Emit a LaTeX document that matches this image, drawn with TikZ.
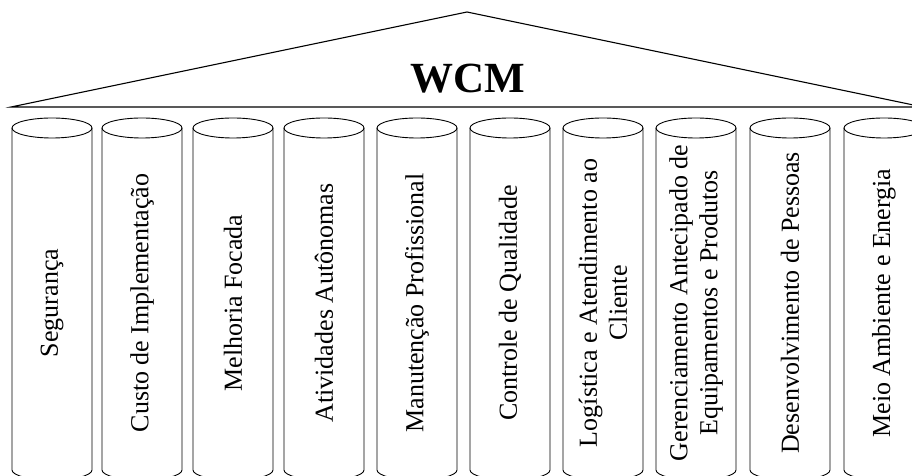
\documentclass[tikz,border=0pt]{standalone}
\usepackage{fontspec}
\setmainfont{Liberation Serif}
\usepackage{tikz}
\newcommand{\coluna}[3]{%
    \draw[pilar] (#1,348) -- (#1,6) arc[start angle=180, end angle=360, x radius=40, y radius=10] -- (#1+80,348);
    \draw[pilar] (#1+40,348) ellipse (40 and 10);
    \node[rotulo] (#2) at (#1+40,173) {#3};
}

\begin{document}
\begin{tikzpicture}[x=1pt, y=1pt,
    pilar/.style = {draw, line width=0.9pt},
    telhado/.style = {draw, line width=1.1pt},
    rotulo/.style = {rotate=90, align=center, inner sep=0pt, font=\fontsize{26}{30}\selectfont},
    titulo/.style = {anchor=base, inner sep=0pt, font=\fontsize{43}{46}\selectfont\bfseries}]
    \useasboundingbox (0,0) rectangle (912,476);
    \clip (0,0) rectangle (912,476);

    % Telhado
    \coordinate (esq) at (11,369);
    \coordinate (topo) at (467,464);
    \coordinate (dir) at (923,369);
    \draw[telhado] (esq) -- (topo) -- (dir) -- cycle;

    \node[titulo] (wcm) at (468,383) {WCM};

    % Colunas
    \coluna{12}{c1}{Segurança}
    \coluna{102}{c2}{Custo de Implementação}
    \coluna{193}{c3}{Melhoria Focada}
    \coluna{284}{c4}{Atividades Autônomas}
    \coluna{377}{c5}{Manutenção Profissional}
    \coluna{470}{c6}{Controle de Qualidade}
    \coluna{563}{c7}{Logística e Atendimento ao\\Cliente}
    \coluna{656}{c8}{Gerenciamento Antecipado de\\Equipamentos e Produtos}
    \coluna{750}{c9}{Desenvolvimento de Pessoas}
    \coluna{844}{c10}{Meio Ambiente e Energia}

\end{tikzpicture}
\end{document}
